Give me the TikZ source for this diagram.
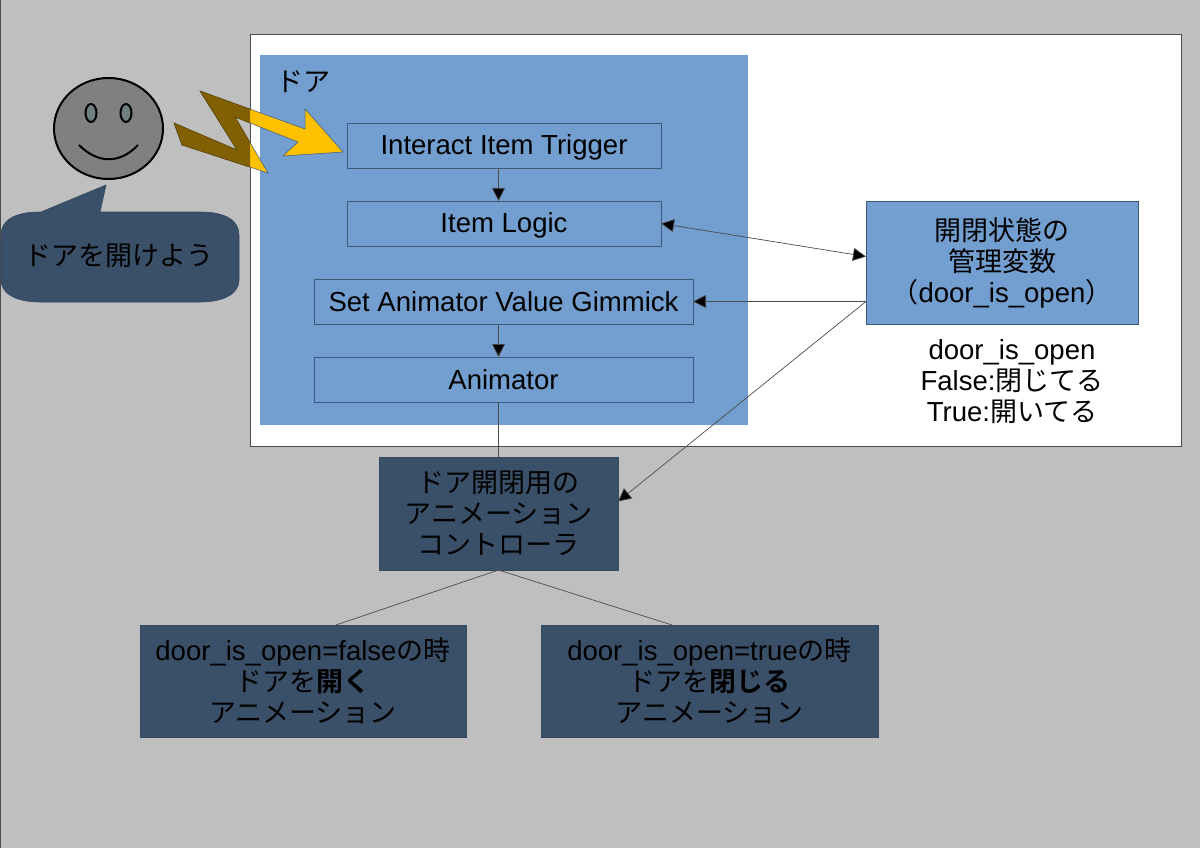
\documentclass[tikz,border=0pt]{standalone}
\usepackage{fontspec}
\usetikzlibrary{arrows.meta}
\setmainfont[Scale=1.02]{Liberation Sans}
\newfontfamily\cjk[BoldFont={Noto Sans CJK JP Bold}]{Noto Sans CJK JP}
\newcommand{\ja}[1]{{\cjk #1}}
\definecolor{pagegray}{HTML}{BFBFBF}
\definecolor{doorblue}{HTML}{729FCF}
\definecolor{darkblue}{HTML}{3A5069}
\definecolor{edgeblue}{HTML}{3F5A78}
\definecolor{boltgold}{HTML}{FFC000}
\definecolor{boltdark}{HTML}{806000}
\definecolor{eyegray}{HTML}{6E8080}
\tikzset{
    txt/.style={font=\fontsize{27}{31}\selectfont, align=center, inner sep=0pt, outer sep=0pt, text=black},
    itembox/.style={txt, draw=edgeblue, line width=0.9pt, fill=doorblue, anchor=north west},
    oneline/.style={text height=25pt, text depth=6pt},
    darkbox/.style={txt, draw=darkblue!90!black, line width=0.8pt, fill=darkblue, anchor=north west},
    link/.style={draw=black!70, line width=0.7pt},
    arrowlink/.style={link, -{Triangle[length=13pt,width=13pt,fill=black]}},
    bothlink/.style={link, {Triangle[length=13pt,width=13pt,fill=black]}-{Triangle[length=13pt,width=13pt,fill=black]}},
}
\begin{document}
\begin{tikzpicture}[x=1pt,y=-1pt]
    \useasboundingbox (0,0) rectangle (1200,848);
    \fill[pagegray] (0,0) rectangle (1200,848);
    \draw[black!70,line width=1pt] (0,848) -- (0,0) -- (1200,0);
    \draw[black!70,line width=0.9pt,fill=white] (250,34) rectangle (1181,446);
    \fill[doorblue] (260,55) rectangle (748,425);
    \node[txt] (doorlabel) at (303,82) {\ja{ドア}};

    % bolt, darker outside the white frame
    \def\boltpath{(200,91) -- (305,129) -- (305,109) -- (343,152) -- (283,156) -- (298,142)
        -- (235,117) -- (268,173) -- (182,145) -- (174,123) -- (237,150) -- cycle}
    \fill[boltgold,draw=edgeblue,line width=0.5pt] \boltpath;
    \begin{scope}
        \clip (0,0) rectangle (250,848);
        \fill[boltdark,draw=boltdark!70!black,line width=0.5pt] \boltpath;
    \end{scope}

    % face
    \draw[black,line width=2pt,fill=black!50] (108.5,128.5) ellipse [x radius=54.5, y radius=50.5];
    \foreach \x in {91,126}
        \draw[black,line width=2pt,fill=eyegray] (\x,113) ellipse [x radius=5.5, y radius=9];
    \draw[black,line width=2pt] (79,145) .. controls (98,164) and (120,164) .. (138,145);

    % speech bubble
    \fill[darkblue,draw=darkblue!90!black,line width=0.6pt] (41,212) -- (106,185) -- (100,212) -- (200,212)
        .. controls (225,212) and (239,220) .. (239,235) -- (239,280)
        .. controls (239,293) and (225,302) .. (200,302) -- (40,302)
        .. controls (15,302) and (1,293) .. (1,280) -- (1,235)
        .. controls (1,220) and (15,212) .. (40,212) -- cycle;
    \node[txt] (say) at (119,256) {\ja{ドアを開けよう}};

    \node[itembox, oneline, minimum width=314pt, minimum height=45pt] (trigger) at (347,123) {Interact Item Trigger};
    \node[itembox, oneline, minimum width=314pt, minimum height=45pt] (logic) at (347,201) {Item Logic};
    \node[itembox, oneline, minimum width=379pt, minimum height=45pt] (gimmick) at (314,279) {Set Animator Value Gimmick};
    \node[itembox, oneline, minimum width=379pt, minimum height=45pt] (animator) at (314,357) {Animator};
    \node[itembox, minimum width=272pt, minimum height=123pt] (state) at (866,201)
        {\ja{開閉状態の}\\\ja{管理変数}\\\ja{（}door\_is\_open\ja{）}};
    \node[txt] (legend) at (1012,382) {door\_is\_open\\False:\ja{閉じてる}\\True:\ja{開いてる}};
    \node[darkbox, minimum width=239pt, minimum height=113pt] (control) at (379,457)
        {\ja{ドア開閉用の}\\\ja{アニメーション}\\\ja{コントローラ}};
    \node[darkbox, minimum width=326pt, minimum height=112pt] (whenfalse) at (140,625)
        {door\_is\_open=false\ja{の時}\\\ja{ドアを\textbf{開く}}\\\ja{アニメーション}};
    \node[darkbox, minimum width=337pt, minimum height=112pt] (whentrue) at (541,625)
        {door\_is\_open=true\ja{の時}\\\ja{ドアを\textbf{閉じる}}\\\ja{アニメーション}};

    \draw[arrowlink] (control.north |- trigger.south) -- (control.north |- logic.north);
    \draw[arrowlink] (control.north |- gimmick.south) -- (control.north |- animator.north);
    \draw[bothlink] (logic.east) -- ([yshift=6pt]state.west);
    \draw[arrowlink] (state.west |- gimmick.east) -- (gimmick.east);
    \draw[arrowlink] (state.west |- gimmick.east) -- ([yshift=12pt]control.east);
    \draw[link] (control.north |- animator.south) -- (control.north);
    \draw[link] (control.south) -- ([xshift=33pt]whenfalse.north);
    \draw[link] (control.south) -- ([xshift=-37.5pt]whentrue.north);
\end{tikzpicture}
\end{document}
